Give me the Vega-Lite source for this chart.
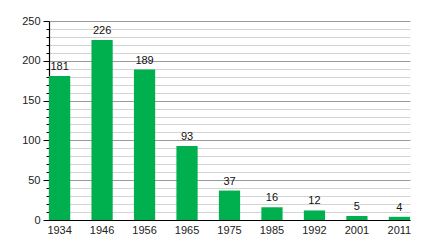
{
  "$schema": "https://vega.github.io/schema/vega-lite/v6.json",
  "width": 361,
  "height": 199,
  "autosize": "none",
  "padding": {"left": 49, "top": 21, "right": 30, "bottom": 20},
  "background": "white",
  "config": {
    "view": {"stroke": null},
    "font": "Liberation Sans",
    "axis": {"labelFont": "Liberation Sans", "labelFontSize": 11, "labelColor": "#222"}
  },
  "data": {
    "values": [
      {"year": "1934", "value": 181},
      {"year": "1946", "value": 226},
      {"year": "1956", "value": 189},
      {"year": "1965", "value": 93},
      {"year": "1975", "value": 37},
      {"year": "1985", "value": 16},
      {"year": "1992", "value": 12},
      {"year": "2001", "value": 5},
      {"year": "2011", "value": 4}
    ]
  },
  "encoding": {
    "x": {
      "field": "year", "type": "ordinal", "sort": null,
      "scale": {"paddingInner": 0.5, "paddingOuter": 0},
      "axis": {"title": null, "labelAngle": 0, "ticks": false, "labelPadding": 4, "domainColor": "#000", "domainWidth": 1.2}
    },
    "y": {
      "field": "value", "type": "quantitative",
      "scale": {"domain": [0, 250], "nice": false},
      "axis": {
        "title": null,
        "values": [0,10,20,30,40,50,60,70,80,90,100,110,120,130,140,150,160,170,180,190,200,210,220,230,240,250],
        "labelExpr": "datum.value % 50 === 0 ? datum.label : ''",
        "grid": true,
        "gridColor": {"condition": {"test": "datum.value % 50 === 0", "value": "#9a9a9a"}, "value": "#d4d4d4"},
        "tickSize": {"condition": {"test": "datum.value % 50 === 0", "value": 6}, "value": 3},
        "tickColor": "#000",
        "domainColor": "#000",
        "domainWidth": 1.2,
        "labelPadding": 3
      }
    }
  },
  "layer": [
    {"mark": {"type": "bar", "color": "#00B04F"}},
    {
      "mark": {"type": "text", "baseline": "bottom", "dy": -4, "fontSize": 11, "color": "#111", "font": "Liberation Sans"},
      "encoding": {"text": {"field": "value", "type": "quantitative"}}
    }
  ]
}
